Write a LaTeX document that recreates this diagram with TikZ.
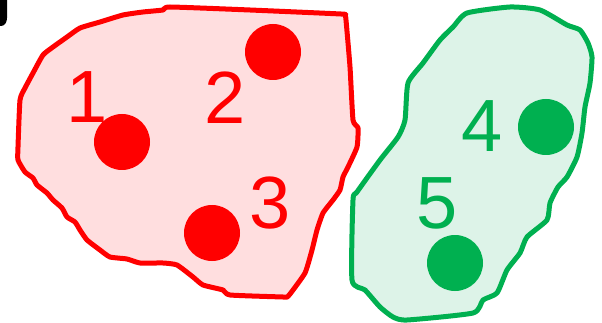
\documentclass[tikz,border=0pt]{standalone}
\usepackage{fontspec}
\setmainfont{Liberation Sans}
\usepackage{tikz}
\usetikzlibrary{positioning}
\usepackage{xcolor}
\definecolor{myred}{HTML}{FF0000}
\definecolor{myredfill}{HTML}{FFDEDF}
\definecolor{mygreen}{HTML}{00B050}
\definecolor{mygreenfill}{HTML}{DDF3E8}

\begin{document}
\begin{tikzpicture}[x=1pt,y=-1pt,
    blob/.style={line width=5pt,line join=round},
    dot/.style={circle,inner sep=0pt,minimum size=56pt},
    num/.style={inner sep=0pt,font=\fontsize{74}{74}\selectfont}
    ]
\useasboundingbox (0,0) rectangle (602,323);
% cut-off mark in the corner
\fill[black] (0,0) -- (7,0) -- (7,18) to[out=-90,in=0] (1,26) -- (0,26) -- cycle;
% red group
\draw[blob,draw=myred,fill=myredfill] plot[smooth cycle,tension=0.3] coordinates {
    (170,7) (250,10) (341,14) (345,15) (346,20) (350,67) (353,120) (358,128) (357,147) (348,167) (343,177)
    (340,190) (333,200) (323,213) (317,230) (312,250) (305,273) (290,294) (287,297) (283,297)
    (230,295) (223,290) (203,285) (193,277) (177,265) (163,263) (140,263)
    (127,259) (110,257) (100,250) (87,240) (80,230) (75,222) (67,217) (62,208)
    (53,200) (47,193) (37,185) (33,178) (25,172) (18,160) (18,147) (20,100)
    (25,88) (33,73) (43,55) (53,47) (67,37) (80,28) (100,22) (123,15) (143,12)
    (163,10)};
\node[dot,fill=myred] (d1) at (122,142) {};
\node[dot,fill=myred] (d2) at (273,52) {};
\node[dot,fill=myred] (d3) at (212,233) {};
\node[num,text=myred] (n1) at (87,97) {1};
\node[num,text=myred] (n2) at (225,98) {2};
\node[num,text=myred] (n3) at (270,203) {3};
% green group
\draw[blob,draw=mygreen,fill=mygreenfill] plot[smooth cycle,tension=0.35] coordinates {
    (467,13) (510,7) (540,10) (567,25) (580,30) (588,43) (592,57) (590,83)
    (585,107) (582,133) (577,157) (567,177) (558,187) (550,203) (547,220)
    (527,237) (520,253) (507,270) (497,293) (483,300) (473,313) (407,320)
    (393,317) (380,307) (365,290) (352,280) (353,200) (357,192) (380,160)
    (398,137) (405,120) (408,83) (423,63) (440,40) (453,27)};
\node[dot,fill=mygreen] (d4) at (546,127) {};
\node[dot,fill=mygreen] (d5) at (455,263) {};
\node[num,text=mygreen] (n4) at (482,126) {4};
\node[num,text=mygreen] (n5) at (437,203) {5};
\end{tikzpicture}
\end{document}
